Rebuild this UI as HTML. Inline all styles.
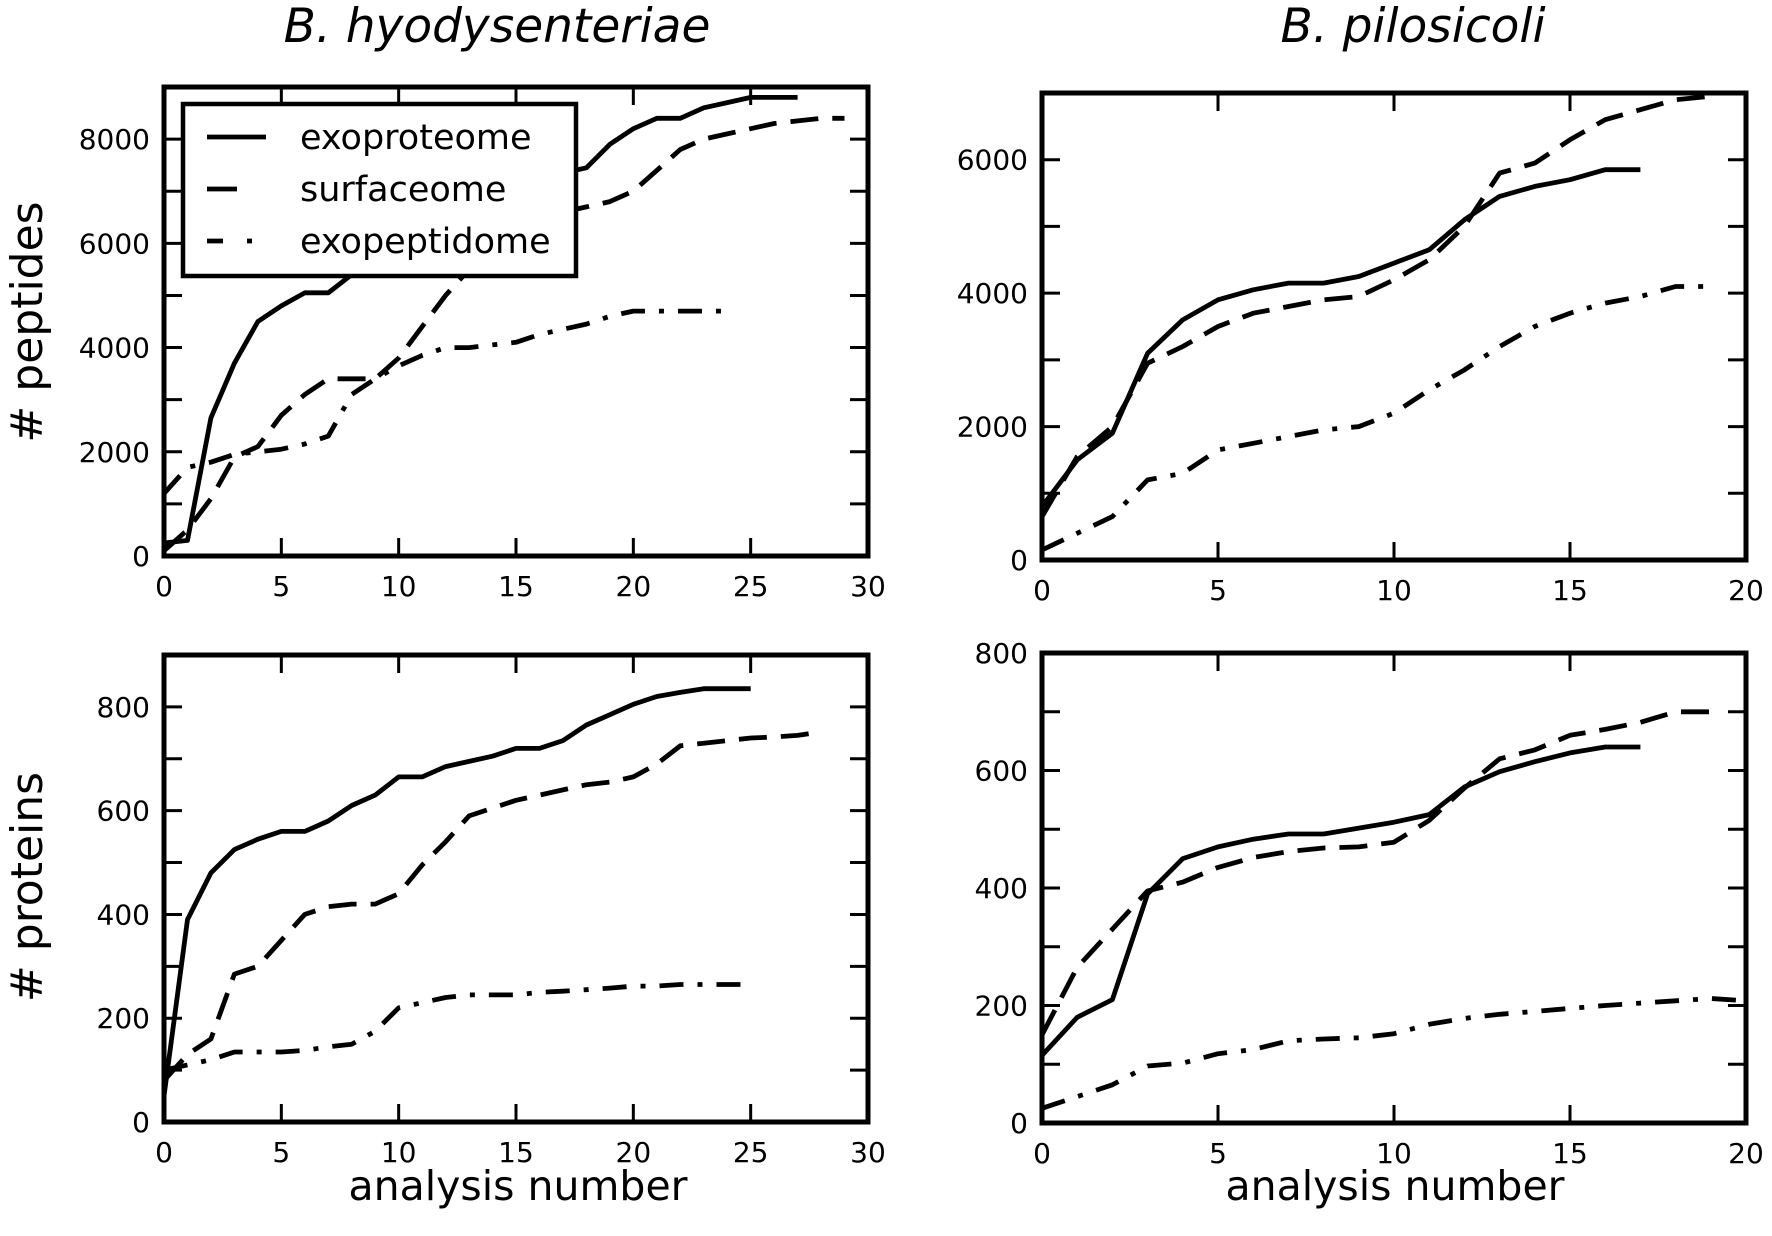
<!DOCTYPE html>
<html><head><meta charset="utf-8"><style>
html,body{margin:0;padding:0;background:#fff}
svg{display:block}
text{font-family:"DejaVu Sans","Liberation Sans",sans-serif;fill:#000}
</style></head><body>
<svg id="fig" width="1772" height="1236" viewBox="0 0 1772 1236" xmlns="http://www.w3.org/2000/svg">
<text x="497" y="42" font-size="47" font-style="italic" text-anchor="middle">B. hyodysenteriae</text>
<text x="1413" y="42" font-size="47" font-style="italic" text-anchor="middle">B. pilosicoli</text>
<text transform="translate(42,322) rotate(-90)" font-size="44" text-anchor="middle"># peptides</text>
<text transform="translate(42,887) rotate(-90)" font-size="44" text-anchor="middle"># proteins</text>
<text x="518" y="1200" font-size="41" text-anchor="middle">analysis number</text>
<text x="1395" y="1200" font-size="41" text-anchor="middle">analysis number</text>
</svg>
<script>
// top-left: B. hyodysenteriae peptides
const tlExo = [250,300,2650,3700,4500,4800,5050,5050,5400,5700,6000,6300,6600,6900,7100,7200,7300,7350,7450,7900,8200,8400,8400,8600,8700,8800,8800,8800];
const tlSurf = [100,500,1100,1900,2100,2700,3100,3400,3400,3400,3800,4400,5000,5500,6000,6300,6500,6600,6700,6800,7000,7400,7800,8000,8100,8200,8300,8350,8400,8400];
const tlPep = [1200,1700,1800,1950,2000,2050,2150,2300,3100,3400,3650,3850,4000,4000,4050,4100,4250,4350,4450,4600,4700,4700,4700,4700,4700];
// top-right: B. pilosicoli peptides
const trExo = [800,1500,1900,3100,3600,3900,4050,4150,4150,4250,4450,4650,5100,5450,5600,5700,5850,5850];
const trSurf = [650,1550,2000,2950,3200,3500,3700,3800,3900,3950,4200,4500,5000,5800,5950,6300,6600,6750,6900,6950];
const trPep = [150,400,650,1200,1300,1650,1750,1850,1950,2000,2200,2550,2850,3200,3500,3700,3850,3950,4100,4100];
// bottom-left: B. hyodysenteriae proteins
const blExo = [50,390,480,525,545,560,560,580,610,630,665,665,685,695,705,720,720,735,765,785,805,820,828,835,835,835];
const blSurf = [80,130,160,285,300,350,400,415,420,420,440,495,540,590,605,620,630,640,650,655,665,690,725,730,735,740,742,745,752];
const blPep = [100,110,120,135,135,135,138,145,150,175,220,230,240,245,245,245,250,252,255,258,262,262,265,265,265,265];
// bottom-right: B. pilosicoli proteins
const brExo = [115,180,210,390,450,470,483,492,492,502,512,525,572,598,615,630,640,640];
const brSurf = [150,265,330,395,410,435,452,462,468,470,478,515,570,620,635,660,670,682,700,700];
const brPep = [25,45,65,97,102,118,125,140,143,145,152,168,178,185,190,195,200,204,208,212,208];
// ticks
const xTicksL = [0,5,10,15,20,25,30];
const xTicksR = [0,5,10,15,20];
const yLabTL = [0,2000,4000,6000,8000];
const yLabTR = [0,2000,4000,6000];
const yLabBL = [0,200,400,600,800];
const yLabBR = [0,200,400,600,800];

const NS = "http://www.w3.org/2000/svg";
const svg = document.getElementById('fig');
function mk(tag, attrs, parent){const e=document.createElementNS(NS,tag);for(const k in attrs)e.setAttribute(k,attrs[k]);(parent||svg).appendChild(e);return e;}

function panel(name, box, xmax, ymax, ystep, xTicks, yLabels, series){
  const g = mk('g',{});
  
  
  const xs = v => box.x0 + (box.x1-box.x0)*v/xmax;
  const ys = v => box.y1 - (box.y1-box.y0)*v/ymax;
  const clipId = name+'-clip';
  const cp = mk('clipPath',{id:clipId},g);
  mk('rect',{x:box.x0,y:box.y0,width:box.x1-box.x0,height:box.y1-box.y0},cp);
  const styles = {solid:'', dash:'28,14', dashdot:'24,14,5,14'};
  series.forEach(s=>{
    const pts = s.data.map((v,i)=>xs(i).toFixed(1)+','+ys(v).toFixed(1)).join(' ');
    const pl = mk('polyline',{points:pts,fill:'none',stroke:'#000','stroke-width':4.8,'stroke-linejoin':'round','clip-path':'url(#'+clipId+')'},g);
    if(styles[s.style]) pl.setAttribute('stroke-dasharray',styles[s.style]);
    
    
  });
  const TL=18;
  xTicks.forEach(t=>{
    const x=xs(t);
    mk('line',{x1:x,x2:x,y1:box.y1,y2:box.y1-TL,stroke:'#000','stroke-width':3},g);
    mk('line',{x1:x,x2:x,y1:box.y0,y2:box.y0+TL,stroke:'#000','stroke-width':3},g);
    const tx = mk('text',{x:x,y:box.y1+40,'font-size':28,'text-anchor':'middle'},g);
    tx.textContent=t;
    
    
  });
  for(let v=ystep; v<ymax; v+=ystep){
    const y=ys(v);
    mk('line',{x1:box.x0,x2:box.x0+TL,y1:y,y2:y,stroke:'#000','stroke-width':3},g);
    mk('line',{x1:box.x1,x2:box.x1-TL,y1:y,y2:y,stroke:'#000','stroke-width':3},g);
  }
  yLabels.forEach(v=>{
    const tx = mk('text',{x:box.x0-14,y:ys(v)+10,'font-size':28,'text-anchor':'end'},g);
    tx.textContent=v;
    
    
  });
  const fr = mk('rect',{x:box.x0,y:box.y0,width:box.x1-box.x0,height:box.y1-box.y0,fill:'none',stroke:'#000','stroke-width':5},g);
  
  
  return g;
}

panel('panel-top-left',{x0:164,x1:868,y0:87,y1:556},30,9000,1000,xTicksL,yLabTL,[
  {name:'exoproteome-line',style:'solid',data:tlExo},
  {name:'surfaceome-line',style:'dash',data:tlSurf},
  {name:'exopeptidome-line',style:'dashdot',data:tlPep}]);
panel('panel-top-right',{x0:1042,x1:1746,y0:93,y1:560},20,7000,1000,xTicksR,yLabTR,[
  {name:'exoproteome-line',style:'solid',data:trExo},
  {name:'surfaceome-line',style:'dash',data:trSurf},
  {name:'exopeptidome-line',style:'dashdot',data:trPep}]);
panel('panel-bottom-left',{x0:164,x1:868,y0:655,y1:1122},30,900,100,xTicksL,yLabBL,[
  {name:'exoproteome-line',style:'solid',data:blExo},
  {name:'surfaceome-line',style:'dash',data:blSurf},
  {name:'exopeptidome-line',style:'dashdot',data:blPep}]);
panel('panel-bottom-right',{x0:1042,x1:1746,y0:653,y1:1123},20,800,100,xTicksR,yLabBR,[
  {name:'exoproteome-line',style:'solid',data:brExo},
  {name:'surfaceome-line',style:'dash',data:brSurf},
  {name:'exopeptidome-line',style:'dashdot',data:brPep}]);

const lg = mk('g',{});


mk('rect',{x:183,y:104,width:393,height:172,fill:'#fff',stroke:'#000','stroke-width':4.5},lg);
const legItems=[['exoproteome',''],['surfaceome','30,30'],['exopeptidome','16,24,5,40']];
legItems.forEach((it,i)=>{
  const y=137+i*52;
  const ln=mk('line',{x1:207,x2:266,y1:y,y2:y,stroke:'#000','stroke-width':4.8},lg);
  if(it[1]) ln.setAttribute('stroke-dasharray',it[1]);
  const t=mk('text',{x:300,y:y+12,'font-size':35},lg);
  t.textContent=it[0];
  
  
});
</script>
</body></html>
